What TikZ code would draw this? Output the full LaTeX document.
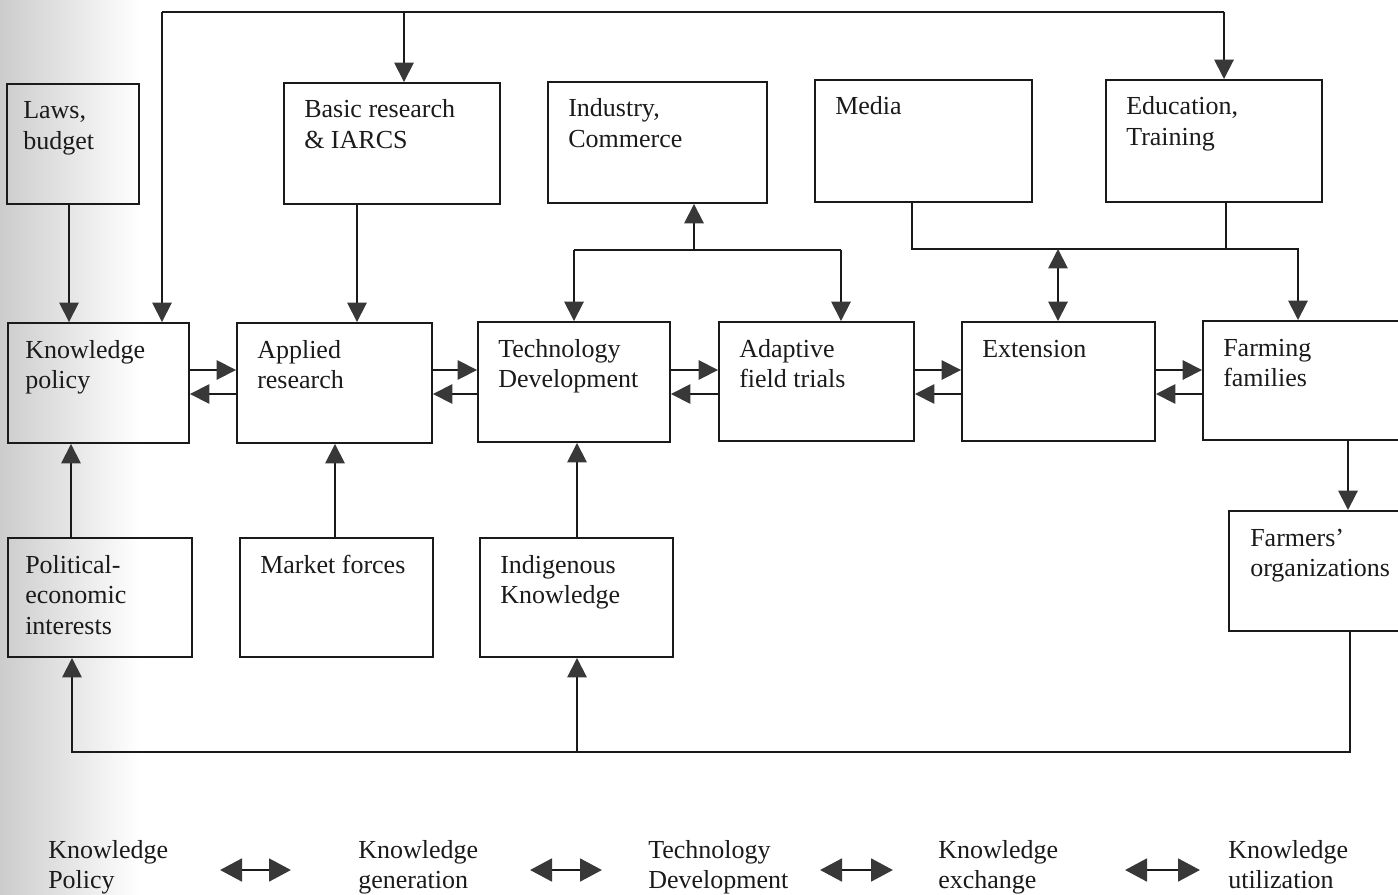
\documentclass[tikz,border=0pt]{standalone}
\usepackage{fontspec}
\setmainfont{Liberation Serif}
\usetikzlibrary{arrows.meta}

\definecolor{ink}{HTML}{1A1A1A}
\definecolor{headgray}{HTML}{383838}

% multi-line box text whose baseline is that of its first line
\newcommand\boxtext[1]{\begin{tabular}[t]{@{}l@{}}#1\end{tabular}}

% \ubox[text inset]{name}{left}{top}{right}{bottom}{text}  (pixel units, y downwards)
\newcommand\ubox[7][20]{%
  \node[ubox, minimum width={(#5-#3)*0.75pt}, minimum height={(#6-#4)*0.75pt}]
    (#2) at ({(#3+#5)/2},{(#4+#6)/2}) {};
  \node[utext] (#2-text) at ({#3+#1},{#4+35}) {\boxtext{#7}};
}

\tikzset{
  x=0.75pt, y=-0.75pt,
  >={Triangle[length=14.5pt,width=14.5pt,color=headgray]},
  ubox/.style={draw=ink, line width=1.45pt, inner sep=0pt, rectangle},
  utext/.style={anchor=base west, inner sep=0pt, text=ink,
                font=\fontsize{19.5pt}{23pt}\selectfont},
  link/.style={draw=ink, line width=1.35pt},
  arr/.style={link, ->},
  darr/.style={link, <->},
  legarr/.style={draw=ink, line width=2.2pt,
    {Triangle[length=16.5pt,width=17pt,color=headgray]}-{Triangle[length=16.5pt,width=17pt,color=headgray]}},
}

\begin{document}
\begin{tikzpicture}
\useasboundingbox (0,0) rectangle (1398,895);
\clip (0,0) rectangle (1398,895);

% shadow along the left edge of the page
\shade[left color=black!20, right color=white] (0,0) rectangle (140,895);

% ---- boxes ----
\ubox[16]{laws}{7}{84}{139}{204}{Laws,\\budget}
\ubox{basic}{284}{83}{500}{204}{Basic research\\\& IARCS}
\ubox{industry}{548}{82}{767}{203}{Industry,\\Commerce}
\ubox{media}{815}{80}{1032}{202}{Media}
\ubox{edu}{1106}{80}{1322}{202}{Education,\\Training}

\ubox[17]{kpol}{8}{323}{189}{443}{Knowledge\\policy}
\ubox{appl}{237}{323}{432}{443}{Applied\\research}
\ubox{tech}{478}{322}{670}{442}{Technology\\Development}
\ubox{adapt}{719}{322}{914}{441}{Adaptive\\field trials}
\ubox{ext}{962}{322}{1155}{441}{Extension}
\ubox{farm}{1203}{321}{1440}{440}{Farming\\families}

\ubox[17]{polit}{8}{538}{192}{657}{Political-\\economic\\interests}
\ubox{market}{240}{538}{433}{657}{Market forces}
\ubox{indig}{480}{538}{673}{657}{Indigenous\\Knowledge}
\ubox[21]{forg}{1229}{511}{1440}{631}{Farmers’\\organizations}

% ---- top distribution line ----
\coordinate (busL) at (162,12);
\coordinate (busB) at (404,12);
\coordinate (busR) at (1224,12);
\draw[link] (busL) -- (busR);
\draw[arr] (busL) -- (busL |- kpol.north);
\draw[arr] (busB) -- (busB |- basic.north);
\draw[arr] (busR) -- (busR |- edu.north);

% ---- top row to middle row ----
\coordinate (xLaws) at (69,0);
\coordinate (xBasic) at (357,0);
\draw[arr] (laws.south -| xLaws) -- (kpol.north -| xLaws);
\draw[arr] (basic.south -| xBasic) -- (appl.north -| xBasic);

% industry, commerce link line
\coordinate (ibL) at (574,250);
\coordinate (ibM) at (694,250);
\coordinate (ibR) at (841,250);
\draw[link] (ibL) -- (ibR);
\draw[arr] (ibM) -- (ibM |- industry.south);
\draw[arr] (ibL) -- (ibL |- tech.north);
\draw[arr] (ibR) -- (ibR |- adapt.north);

% media, education link line
\coordinate (mbL) at (912,249);
\coordinate (mbX) at (1058,249);
\coordinate (mbE) at (1226,249);
\coordinate (mbR) at (1298,249);
\draw[arr] (media.south -| mbL) -- (mbL) -- (mbR) -- (mbR |- farm.north);
\draw[link] (edu.south -| mbE) -- (mbE);
\draw[darr] (mbX) -- (mbX |- ext.north);

% ---- middle row exchanges ----
\coordinate (rowR) at (0,370);
\coordinate (rowL) at (0,394);
\foreach \a/\b in {kpol/appl, appl/tech, tech/adapt, adapt/ext, ext/farm} {
  \draw[arr] (\a.east |- rowR) -- (\b.west |- rowR);
  \draw[arr] (\b.west |- rowL) -- (\a.east |- rowL);
}

% ---- bottom row to middle row ----
\coordinate (xPolit) at (71,0);
\coordinate (xMarket) at (335,0);
\coordinate (xIndig) at (577,0);
\draw[arr] (polit.north -| xPolit) -- (kpol.south -| xPolit);
\draw[arr] (market.north -| xMarket) -- (appl.south -| xMarket);
\draw[arr] (indig.north -| xIndig) -- (tech.south -| xIndig);

% ---- farming families, farmers' organizations, feedback ----
\coordinate (xFarm) at (1348,0);
\draw[arr] (farm.south -| xFarm) -- (forg.north -| xFarm);
\coordinate (fbR) at (1350,752);
\coordinate (fbI) at (577,752);
\coordinate (fbL) at (72,752);
\draw[arr] (forg.south -| fbR) -- (fbR) -- (fbL) -- (polit.south -| fbL);
\draw[arr] (fbI) -- (indig.south -| fbI);

% ---- legend ----
\node[utext] (lg1) at (48,858)   {\boxtext{Knowledge\\Policy}};
\node[utext] (lg2) at (358,858)  {\boxtext{Knowledge\\generation}};
\node[utext] (lg3) at (648,858)  {\boxtext{Technology\\Development}};
\node[utext] (lg4) at (938,858)  {\boxtext{Knowledge\\exchange}};
\node[utext] (lg5) at (1228,858) {\boxtext{Knowledge\\utilization}};

\coordinate (la1) at (220,870);  \coordinate (lb1) at (291,870);
\coordinate (la2) at (530,870);  \coordinate (lb2) at (602,870);
\coordinate (la3) at (820,870);  \coordinate (lb3) at (893,870);
\coordinate (la4) at (1125,870); \coordinate (lb4) at (1200,870);
\foreach \i in {1,...,4} { \draw[legarr] (la\i) -- (lb\i); }
\end{tikzpicture}
\end{document}
